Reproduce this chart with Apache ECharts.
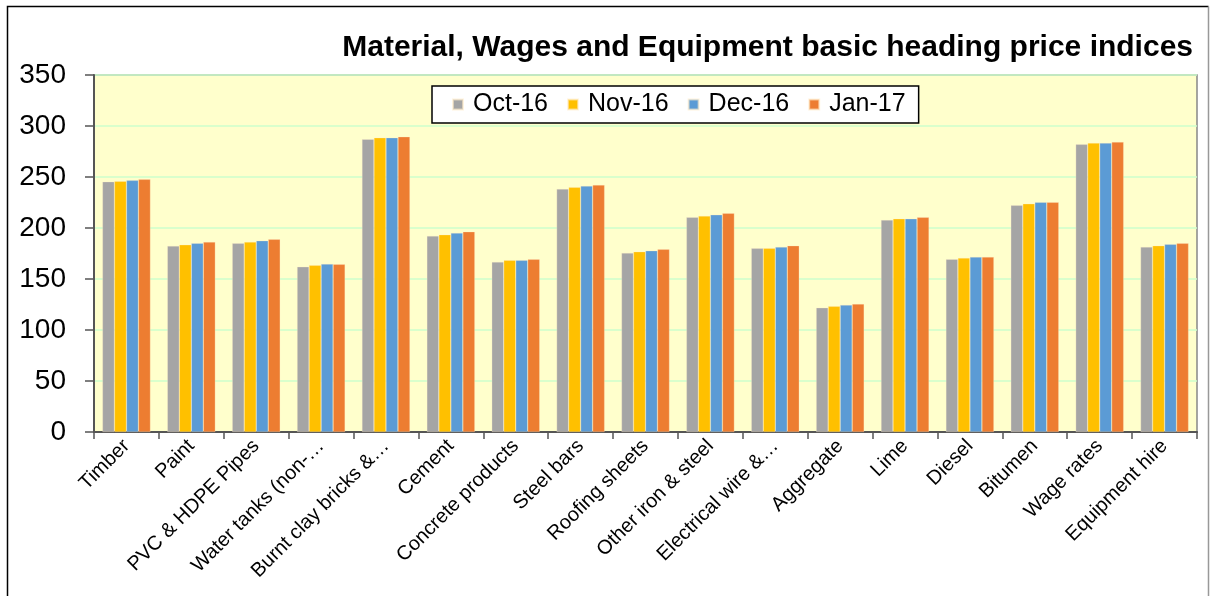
<!DOCTYPE html>
<html><head><meta charset="utf-8">
<script src="https://cdn.jsdelivr.net/npm/echarts@6/dist/echarts.min.js"></script>
<style>html,body{margin:0;padding:0;background:#fff}#c{width:1210px;height:596px}</style>
</head><body><div id="c"></div>
<script>
const categories = ["Timber","Paint","PVC & HDPE Pipes","Water tanks (non-…","Burnt clay bricks &…","Cement","Concrete products","Steel bars","Roofing sheets","Other iron & steel","Electrical wire &…","Aggregate","Lime","Diesel","Bitumen","Wage rates","Equipment hire"];
const seriesNames = ["Oct-16","Nov-16","Dec-16","Jan-17"];
const oct16 = [245.4,182.4,185.0,162.0,287.0,192.2,166.7,238.2,175.5,210.5,180.1,121.9,207.8,169.3,222.2,282.0,181.4];
const nov16 = [245.8,183.6,186.3,163.4,288.6,193.5,168.3,239.9,176.8,211.8,180.1,123.2,209.1,170.6,223.8,283.3,182.7];
const dec16 = [246.7,185.0,187.6,164.7,288.6,195.1,168.3,241.2,177.8,213.0,181.4,124.5,209.1,171.6,225.2,283.3,184.0];
const jan17 = [247.7,186.3,188.9,164.4,289.5,196.4,169.3,242.2,179.1,214.4,182.7,125.5,210.5,171.6,225.2,284.3,185.0];
const yTicks = {min:0,max:350,interval:50};
const colors = ["#A5A5A5","#FFC000","#5B9BD5","#ED7D31"];
const values = [oct16,nov16,dec16,jan17];
const font = "Liberation Sans, Arial, sans-serif";
const chart = echarts.init(document.getElementById('c'));
chart.setOption({
  animation:false,
  color: colors,
  title:{text:"Material, Wages and Equipment basic heading price indices",right:12,top:28,
    textStyle:{fontFamily:font,fontWeight:'bold',fontSize:30,color:'#000'}},
  legend:{data:seriesNames,left:432,top:86,itemWidth:10,itemHeight:10,itemGap:19,
    padding:[6,13,6,20],backgroundColor:'#fff',borderColor:'#000',borderWidth:1.5,
    icon:'rect',textStyle:{fontFamily:font,fontSize:25,color:'#000',padding:[0,0,0,5]}},
  graphic:[
    {type:'polyline',shape:{points:[[7.5,600],[7.5,6.5],[1208.5,6.5]]},style:{stroke:'#000',lineWidth:1.5,fill:null},z:100},
    {type:'line',shape:{x1:1208.5,y1:6.5,x2:1208.5,y2:600},style:{stroke:'#999',lineWidth:1.5},z:100}
  ],
  grid:{left:94,right:13,top:75,bottom:164,show:true,backgroundColor:'#FFFFCC',borderColor:'#888',borderWidth:1.5},
  xAxis:{type:'category',data:categories,
    axisLine:{lineStyle:{color:'#555',width:2}},
    axisTick:{show:true,length:7,lineStyle:{color:'#555',width:1.5}},
    axisLabel:{rotate:45,margin:11,interval:0,fontFamily:font,fontSize:20,color:'#000'}},
  yAxis:{type:'value',min:yTicks.min,max:yTicks.max,interval:yTicks.interval,
    axisLine:{show:true,lineStyle:{color:'#555',width:2}},
    axisTick:{show:true,length:9,lineStyle:{color:'#555',width:1.5}},
    splitLine:{lineStyle:{color:'#CCFFCC',width:1.5}},
    axisLabel:{fontFamily:font,fontSize:28,color:'#000',margin:28}},
  series: seriesNames.map((n,i)=>({name:n,type:'bar',data:values[i],barGap:'0%',barCategoryGap:'26%',
    itemStyle:{color:colors[i],borderColor:'rgba(255,235,200,0.6)',borderWidth:0.5}}))
});
</script></body></html>
